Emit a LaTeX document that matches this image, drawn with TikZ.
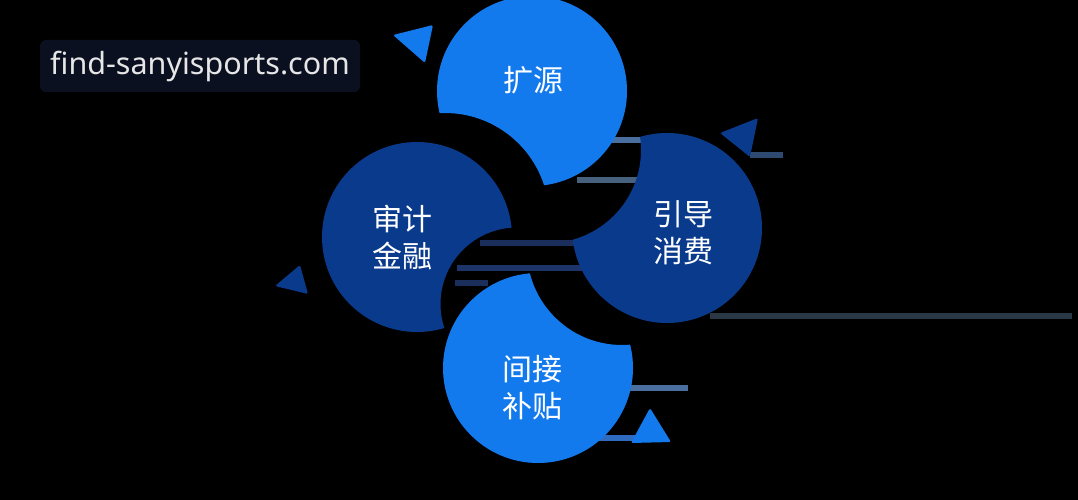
\documentclass[tikz,border=0pt]{standalone}
\usepackage{fontspec}
\setmainfont{Noto Sans}
\newfontfamily\cjkfont{Noto Sans CJK SC}
\definecolor{lblue}{HTML}{137AEE}
\definecolor{dblue}{HTML}{0A3A8C}
\definecolor{barsteel}{HTML}{4A6E9E}
\definecolor{barslate}{HTML}{46607E}
\definecolor{barmid}{HTML}{2E4A70}
\definecolor{barnavy}{HTML}{1C2F5C}
\definecolor{barnavyb}{HTML}{1C3468}
\definecolor{bargray}{HTML}{2A3846}
\definecolor{barbright}{HTML}{2F6CC0}
\definecolor{wmbg}{HTML}{0B1020}
\definecolor{wmtext}{HTML}{E6E6E6}
\newcommand\bittencircle[7]{%
  \begin{scope}[even odd rule]
    \clip (-10,-10) rectangle (1090,510) (#4,#5) circle (#6pt);
    \fill[#7] (#1,#2) circle (#3pt);
  \end{scope}}
\begin{document}
\begin{tikzpicture}[x=1pt,y=-1pt,
  bar/.style={line width=6pt},
  lbl/.style={text=white, align=center, font=\cjkfont\fontsize{30}{37}\selectfont, inner sep=0pt},
  tri/.style={rounded corners=1.5pt}]
\fill[black] (0,0) rectangle (1078,500);
\useasboundingbox (0,0) rectangle (1078,500);
% background bars
\draw[bar,barsteel] (560,140) -- (660,140);
\draw[bar,barslate] (577,180) -- (640,180);
\draw[bar,barmid] (750,155) -- (783,155);
\draw[bar,barnavy] (480,243) -- (580,243);
\draw[bar,barnavyb] (457,268) -- (590,268);
\draw[bar,barnavy] (455,283) -- (488,283);
\draw[bar,bargray] (710,316) -- (1072,316);
\draw[bar,barsteel] (610,388) -- (688,388);
\draw[bar,barbright] (595,438) -- (640,438);
% watermark
\node[fill=wmbg, rounded corners=6pt, minimum width=320pt, minimum height=52pt, inner sep=0pt,
      text=wmtext, font=\fontsize{30.5}{34}\selectfont] (wm) at (200,66) {find-sanyisports.com};
% triangles
\fill[lblue,tri] (393,35) -- (433,25) -- (425,63) -- cycle;
\fill[dblue,tri] (720,133) -- (758,118) -- (750,157) -- cycle;
\fill[dblue,tri] (275,286) -- (300,265) -- (308,294) -- cycle;
\fill[lblue,tri] (650,408) -- (671,442) -- (631,443) -- cycle;
% bitten circles
\bittencircle{532}{91}{95}{445}{217}{104}{lblue}
\bittencircle{667}{228}{95}{548}{150}{93}{dblue}
\bittencircle{417}{237}{95}{517}{304}{76.5}{dblue}
\bittencircle{538}{368}{95}{622}{250}{95}{lblue}
% labels
\node[lbl] (kuoyuan) at (533,80) {扩源};
\node[lbl] (yindao) at (683,233) {引导\\消费};
\node[lbl] (shenji) at (402,237) {审计\\金融};
\node[lbl] (jianjie) at (532,388) {间接\\补贴};
\end{tikzpicture}
\end{document}
